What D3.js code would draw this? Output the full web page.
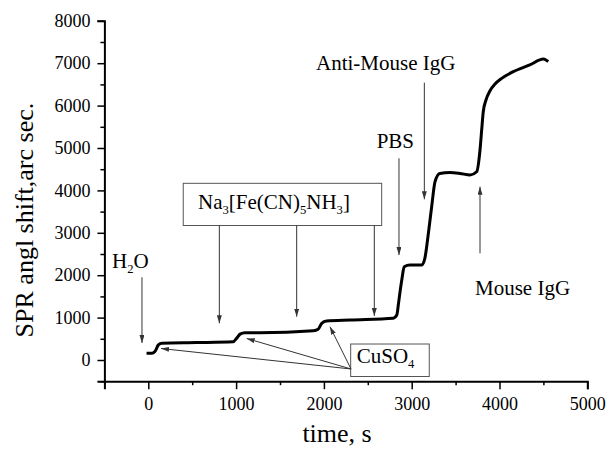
<!DOCTYPE html>
<html>
<head>
<meta charset="utf-8">
<script src="https://cdn.jsdelivr.net/npm/d3@7"></script>
<style>
body{margin:0;background:#fff;}
text{font-family:"Liberation Serif","Times New Roman",serif;fill:#000;}
</style>
</head>
<body>
<script>
// curve
var timeS = [-20, 40, 75, 115, 155, 550, 965, 1005, 1045, 1100, 1270, 1880, 1935, 1975, 2030, 2300,
             2790, 2830, 2850, 2870, 2890, 2915, 2980, 3115, 3150, 3190, 3230, 3265, 3320, 3435,
             3550, 3665, 3740, 3778, 3797, 3815, 3846, 3892, 3949, 4025, 4157, 4345, 4500, 4555];
var shiftArc = [160, 160, 200, 355, 395, 410, 430, 510, 610, 645, 645, 690, 725, 865, 920, 945,
                985, 1060, 1340, 1650, 1930, 2200, 2240, 2240, 2400, 2990, 3660, 4200, 4400, 4420,
                4400, 4365, 4441, 4953, 5425, 5856, 6132, 6352, 6509, 6643, 6800, 6960, 7100, 7035];

var xTicks = [0, 1000, 2000, 3000, 4000, 5000];
var yTicks = [0, 1000, 2000, 3000, 4000, 5000, 6000, 7000, 8000];

// annotations, in data units
var naArrowX = [809, 1690, 2574];
var naArrowEnd = [866, 1021, 1038];
var cuArrowX = [145, 1121, 2069];
var cuArrowEnd = [271, 507, 785];

var totalWidth = 609, totalHeight = 450;

var x = d3.scaleLinear().domain([-500, 5000]).range([104.4, 587.3]);
var y = d3.scaleLinear().domain([-500, 8000]).range([381.2, 20.8]);

var svg = d3.select("body").append("svg")
    .attr("width", totalWidth)
    .attr("height", totalHeight);

var defs = svg.append("defs");
defs.append("marker")
    .attr("id", "head")
    .attr("markerUnits", "userSpaceOnUse")
    .attr("viewBox", "0 0 8 5")
    .attr("refX", 8).attr("refY", 2.5)
    .attr("markerWidth", 8).attr("markerHeight", 5)
    .attr("orient", "auto")
  .append("path")
    .attr("d", "M0,0 L8,2.5 L0,5 Z")
    .attr("fill", "#333");

// axes
var minorX = d3.range(-500, 5001, 500).filter(d => d % 1000 != 0);
var minorY = d3.range(-500, 8001, 500).filter(d => d % 1000 != 0);

var gx = svg.append("g").attr("transform", "translate(0," + y(-500) + ")");
gx.call(d3.axisBottom(x).tickValues(xTicks).tickSize(8).tickPadding(8).tickFormat(d3.format("d")));
gx.append("g").call(d3.axisBottom(x).tickValues(minorX).tickSize(4).tickFormat(""));

var gy = svg.append("g").attr("transform", "translate(" + x(-500) + ",0)");
gy.call(d3.axisLeft(y).tickValues(yTicks).tickSize(7).tickPadding(7).tickFormat(d3.format("d")));
gy.append("g").call(d3.axisLeft(y).tickValues(minorY).tickSize(4).tickFormat(""));

gx.attr("font-family", "Liberation Serif, serif").attr("font-size", 18);
gy.attr("font-family", "Liberation Serif, serif").attr("font-size", 18);
svg.selectAll(".domain").attr("stroke", "#000").attr("stroke-width", 2);
svg.selectAll(".tick line").attr("stroke", "#000").attr("stroke-width", 1.5);
svg.selectAll(".tick text")
   .attr("font-family", "Liberation Serif, serif")
   .attr("font-size", 18)
   .attr("fill", "#000");
svg.selectAll("g > g > .domain").remove();

svg.append("text")
   .attr("x", x(2150)).attr("y", 442)
   .attr("text-anchor", "middle")
   .style("font-size", "26px")
   .text("time, s");

svg.append("text")
   .attr("transform", "translate(33," + y(3300) + ") rotate(-90)")
   .attr("text-anchor", "middle")
   .style("font-size", "26px")
   .text("SPR angl shift,arc sec.");

// curve
var pts = timeS.map((t, i) => [t, shiftArc[i]]);
svg.append("path")
   .datum(pts)
   .attr("fill", "none")
   .attr("stroke", "#000")
   .attr("stroke-width", 3)
   .attr("stroke-linejoin", "round")
   .attr("d", d3.line().x(d => x(d[0])).y(d => y(d[1])).curve(d3.curveMonotoneX));

// annotation helpers
function arrow(x1, y1, x2, y2) {
  svg.append("line")
     .attr("x1", x(x1)).attr("y1", y(y1))
     .attr("x2", x(x2)).attr("y2", y(y2))
     .attr("stroke", "#333")
     .attr("stroke-width", 1)
     .attr("marker-end", "url(#head)");
}

// parts: [text, isSubscript]
function label(t, v, parts, size) {
  var txt = svg.append("text")
     .attr("x", x(t)).attr("y", y(v))
     .style("font-size", size + "px");
  parts.forEach(function(p, i) {
    var prevSub = i > 0 && parts[i - 1][1];
    var ts = txt.append("tspan").text(p[0]);
    if (p[1]) ts.attr("dy", 5).style("font-size", (size * 0.6) + "px");
    else if (prevSub) ts.attr("dy", -5);
  });
}

// H2O
label(-413, 2170, [["H"], ["2", true], ["O"]], 21);
arrow(-72, 1950, -72, 401);

// Na3[Fe(CN)5NH3]
svg.append("rect")
   .attr("x", x(398)).attr("y", y(4167))
   .attr("width", x(2658) - x(398)).attr("height", y(3172) - y(4167))
   .attr("fill", "#fff").attr("stroke", "#555").attr("stroke-width", 1);
label(566, 3554, [["Na"], ["3", true], ["[Fe(CN)"], ["5", true], ["NH"], ["3", true], ["]"]], 21);
naArrowX.forEach(function(t, i) { arrow(t, 3172, t, naArrowEnd[i]); });

// PBS
label(2601, 5000, [["PBS"]], 21);
arrow(2855, 4757, 2855, 2476);

// Anti-Mouse IgG
label(1910, 6840, [["Anti-Mouse IgG"]], 21);
arrow(3144, 6540, 3144, 3790);

// Mouse IgG
label(3721, 1533, [["Mouse IgG"]], 21);
arrow(3778, 2516, 3778, 4087);

// CuSO4
svg.append("rect")
   .attr("x", x(2305)).attr("y", y(377))
   .attr("width", x(3200) - x(2305)).attr("height", y(-389) - y(377))
   .attr("fill", "#fff").attr("stroke", "#555").attr("stroke-width", 1);
label(2374, -78, [["CuSO"], ["4", true]], 21);
cuArrowX.forEach(function(t, i) { arrow(2309, -212, t, cuArrowEnd[i]); });
</script>
</body>
</html>
